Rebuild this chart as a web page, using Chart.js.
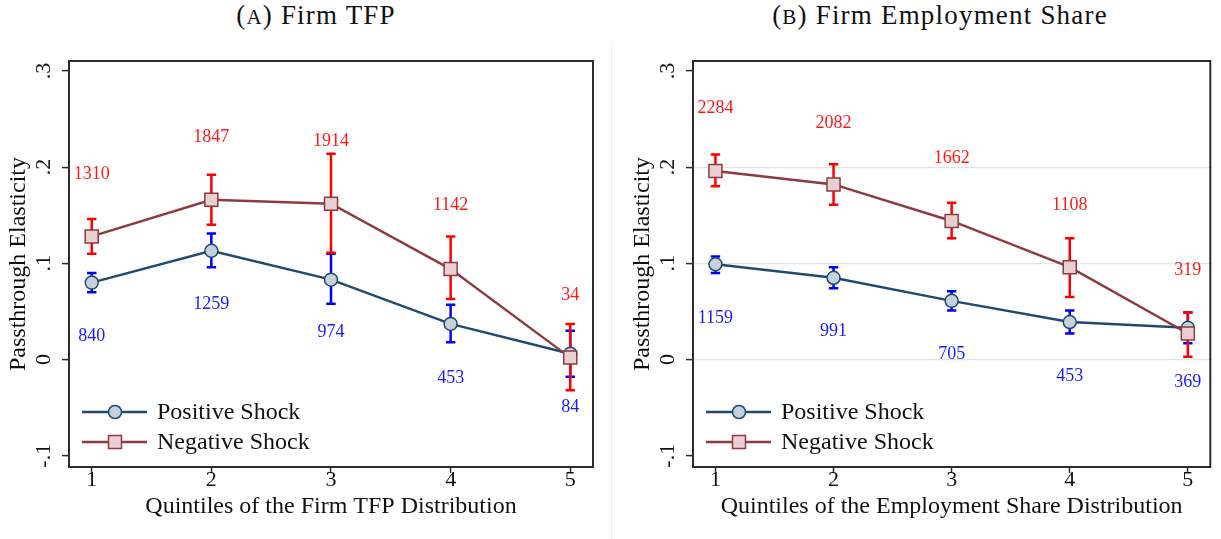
<!DOCTYPE html>
<html>
<head>
<meta charset="utf-8">
<script src="https://cdn.jsdelivr.net/npm/chart.js@4.4.1/dist/chart.umd.min.js"></script>
<style>
    body { margin: 0; background: #fff; width: 1221px; height: 539px; position: relative; overflow: hidden; font-family: 'Liberation Serif', 'Times New Roman', serif; }
    .panel { position: absolute; top: 0; height: 539px; }
    #panelA { left: 0; width: 610px; }
    #panelB { left: 612px; width: 609px; }
    .sep { position: absolute; left: 611px; top: 42px; width: 1px; height: 497px; background: #eceff0; }
    .title { position: absolute; top: 0; height: 30px; line-height: 30px; font-size: 27px; letter-spacing: 1.2px; white-space: nowrap; transform: translateX(-50%); color: #111; }
    .sc { font-size: 21px; }
    canvas { position: absolute; left: 0; top: 0; }
</style>
</head>
<body>
<div class="title" style="left:316px">(<span class="sc">A</span>) Firm TFP</div>
<div class="title" style="left:940px">(<span class="sc">B</span>) Firm Employment Share</div>
<div class="sep"></div>
<div class="panel" id="panelA"><canvas id="chartA" width="610" height="539"></canvas></div>
<div class="panel" id="panelB"><canvas id="chartB" width="609" height="539"></canvas></div>

<script>
// --- DATA ---
const quintiles = [1, 2, 3, 4, 5];
const yTickValues = [-0.1, 0, 0.1, 0.2, 0.3];
const yTickLabels = ['-.1', '0', '.1', '.2', '.3'];
const legendLabels = ['Positive Shock', 'Negative Shock'];

// Panel A: Firm TFP
const tfpPos = [0.080, 0.113, 0.083, 0.037, 0.006];
const tfpPosLow = [0.070, 0.096, 0.058, 0.018, -0.018];
const tfpPosHigh = [0.090, 0.131, 0.110, 0.057, 0.030];
const tfpPosN = ['840', '1259', '974', '453', '84'];
const tfpPosNAt = [0.024, 0.057, 0.028, -0.019, -0.050];
const tfpNeg = [0.128, 0.166, 0.162, 0.094, 0.002];
const tfpNegLow = [0.110, 0.140, 0.111, 0.063, -0.032];
const tfpNegHigh = [0.146, 0.192, 0.214, 0.128, 0.037];
const tfpNegN = ['1310', '1847', '1914', '1142', '34'];
const tfpNegNAt = [0.193, 0.231, 0.227, 0.160, 0.067];

// Panel B: Firm Employment Share
const empPos = [0.099, 0.085, 0.061, 0.039, 0.033];
const empPosLow = [0.090, 0.074, 0.051, 0.027, 0.017];
const empPosHigh = [0.107, 0.096, 0.071, 0.051, 0.049];
const empPosN = ['1159', '991', '705', '453', '369'];
const empPosNAt = [0.043, 0.029, 0.005, -0.017, -0.024];
const empNeg = [0.196, 0.182, 0.144, 0.096, 0.027];
const empNegLow = [0.180, 0.161, 0.126, 0.065, 0.003];
const empNegHigh = [0.213, 0.203, 0.163, 0.126, 0.049];
const empNegN = ['2284', '2082', '1662', '1108', '319'];
const empNegNAt = [0.261, 0.246, 0.209, 0.160, 0.093];

// --- STYLE ---
const SERIF = "'Liberation Serif', 'Times New Roman', serif";
const NAVY = '#1f4a70';
const NAVY_FILL = '#c6d1db';
const MAROON = '#8e3a40';
const MAROON_FILL = '#e8d0d2';
const INK = '#111';

function toPoints(vals) {
    return quintiles.map((q, i) => ({ x: q, y: vals[i] }));
}

// error bars, sample counts, frame, rotated y labels and legend
function extrasPlugin(s) {
    return {
        id: 'extras',
        beforeDatasetsDraw(chart) {
            const { ctx, scales: { x, y } } = chart;
            s.bars.forEach(b => {
                ctx.save();
                ctx.strokeStyle = b.color;
                ctx.lineWidth = 2.5;
                quintiles.forEach((q, i) => {
                    const px = x.getPixelForValue(q);
                    const top = y.getPixelForValue(b.high[i]);
                    const bot = y.getPixelForValue(b.low[i]);
                    ctx.beginPath();
                    ctx.moveTo(px, top); ctx.lineTo(px, bot);
                    ctx.moveTo(px - 4.7, top); ctx.lineTo(px + 4.7, top);
                    ctx.moveTo(px - 4.7, bot); ctx.lineTo(px + 4.7, bot);
                    ctx.stroke();
                });
                ctx.restore();
            });
        },
        afterDatasetsDraw(chart) {
            const { ctx, scales: { x, y } } = chart;
            ctx.save();
            ctx.font = '18px ' + SERIF;
            ctx.textAlign = 'center';
            ctx.textBaseline = 'middle';
            s.counts.forEach(c => {
                ctx.fillStyle = c.color;
                quintiles.forEach((q, i) => {
                    ctx.fillText(c.text[i], x.getPixelForValue(q), y.getPixelForValue(c.at[i]));
                });
            });
            ctx.restore();
        },
        afterDraw(chart) {
            const { ctx, chartArea: a, scales: { y } } = chart;
            ctx.save();
            // plot region border
            ctx.strokeStyle = '#2b2b2b';
            ctx.lineWidth = 2;
            ctx.strokeRect(a.left, a.top, a.right - a.left, a.bottom - a.top);

            // y tick labels, rotated like Stata
            ctx.fillStyle = INK;
            ctx.font = '22px ' + SERIF;
            ctx.textAlign = 'center';
            ctx.textBaseline = 'middle';
            yTickValues.forEach((v, i) => {
                ctx.save();
                ctx.translate(a.left - 25, y.getPixelForValue(v));
                ctx.rotate(-Math.PI / 2);
                ctx.fillText(yTickLabels[i], 0, 0);
                ctx.restore();
            });

            // legend
            const rows = [
                { y: a.bottom - 55, line: NAVY, fill: NAVY_FILL, shape: 'circle' },
                { y: a.bottom - 25, line: MAROON, fill: MAROON_FILL, shape: 'rect' }
            ];
            rows.forEach((r, i) => {
                ctx.strokeStyle = r.line;
                ctx.lineWidth = 2.4;
                ctx.beginPath();
                ctx.moveTo(a.left + 13, r.y);
                ctx.lineTo(a.left + 78, r.y);
                ctx.stroke();
                ctx.fillStyle = r.fill;
                ctx.lineWidth = 1.5;
                ctx.beginPath();
                if (r.shape === 'circle') {
                    ctx.arc(a.left + 46, r.y, 6.5, 0, Math.PI * 2);
                } else {
                    ctx.rect(a.left + 46 - 6.5, r.y - 6.5, 13, 13);
                }
                ctx.fill();
                ctx.stroke();
                ctx.fillStyle = INK;
                ctx.font = '24px ' + SERIF;
                ctx.textAlign = 'left';
                ctx.textBaseline = 'middle';
                ctx.fillText(legendLabels[i], a.left + 88, r.y + 1);
            });
            ctx.restore();
        }
    };
}

function buildChart(canvasId, s) {
    const ctx = document.getElementById(canvasId).getContext('2d');
    new Chart(ctx, {
        type: 'line',
        data: {
            datasets: [{
                label: legendLabels[0],
                data: toPoints(s.pos),
                order: 2,
                borderColor: NAVY,
                borderWidth: 2.4,
                pointStyle: 'circle',
                pointRadius: 6.5,
                pointBackgroundColor: NAVY_FILL,
                pointBorderColor: NAVY,
                pointBorderWidth: 1.5,
                tension: 0
            }, {
                label: legendLabels[1],
                data: toPoints(s.neg),
                order: 1,
                borderColor: MAROON,
                borderWidth: 2.4,
                pointStyle: 'rect',
                pointRadius: 9.2,
                pointBackgroundColor: MAROON_FILL,
                pointBorderColor: MAROON,
                pointBorderWidth: 1.5,
                tension: 0
            }]
        },
        options: {
            responsive: false,
            animation: false,
            events: [],
            devicePixelRatio: 1,
            layout: { padding: { left: 0, right: s.padRight, top: 61, bottom: 0 } },
            plugins: { legend: { display: false }, tooltip: { enabled: false } },
            scales: {
                x: {
                    type: 'linear',
                    min: 0.81,
                    max: 5.19,
                    afterBuildTicks: scale => { scale.ticks = quintiles.map(v => ({ value: v })); },
                    afterFit: scale => { scale.height = 72; },
                    border: { display: false },
                    grid: { drawOnChartArea: false, tickLength: 6, tickColor: '#2b2b2b', tickWidth: 1.5 },
                    ticks: { color: INK, font: { family: SERIF, size: 22 }, padding: -6, maxRotation: 0, callback: v => String(v) },
                    title: { display: true, text: s.xTitle, color: INK, font: { family: SERIF, size: 24 }, padding: { top: 0, bottom: 17.6 } }
                },
                y: {
                    type: 'linear',
                    min: -0.1117,
                    max: 0.3103,
                    afterBuildTicks: scale => { scale.ticks = yTickValues.map(v => ({ value: v })); },
                    afterFit: scale => { scale.width = s.axisWidth; },
                    border: { display: false },
                    grid: {
                        drawOnChartArea: s.gridlines,
                        color: c => (c.tick && [0, 0.1, 0.2].includes(c.tick.value)) ? '#dde7e8' : 'rgba(0,0,0,0)',
                        lineWidth: 1.2,
                        tickLength: 7,
                        tickColor: '#2b2b2b',
                        tickWidth: 1.5
                    },
                    ticks: { display: false },
                    title: { display: true, text: 'Passthrough Elasticity', color: INK, font: { family: SERIF, size: 24 }, padding: { top: s.yTitlePad, bottom: 0 } }
                }
            }
        },
        plugins: [extrasPlugin(s)]
    });
}

buildChart('chartA', {
    pos: tfpPos, neg: tfpNeg,
    bars: [
        { color: '#0000ff', low: tfpPosLow, high: tfpPosHigh },
        { color: '#ff0000', low: tfpNegLow, high: tfpNegHigh }
    ],
    counts: [
        { color: '#1a1aff', text: tfpPosN, at: tfpPosNAt },
        { color: '#ff1a1a', text: tfpNegN, at: tfpNegNAt }
    ],
    xTitle: 'Quintiles of the Firm TFP Distribution',
    axisWidth: 69, padRight: 17, yTitlePad: 4.6, gridlines: false
});

buildChart('chartB', {
    pos: empPos, neg: empNeg,
    bars: [
        { color: '#0000ff', low: empPosLow, high: empPosHigh },
        { color: '#ff0000', low: empNegLow, high: empNegHigh }
    ],
    counts: [
        { color: '#1a1aff', text: empPosN, at: empPosNAt },
        { color: '#ff1a1a', text: empNegN, at: empNegNAt }
    ],
    xTitle: 'Quintiles of the Employment Share Distribution',
    axisWidth: 81, padRight: 2, yTitlePad: 16.6, gridlines: true
});
</script>
</body>
</html>
